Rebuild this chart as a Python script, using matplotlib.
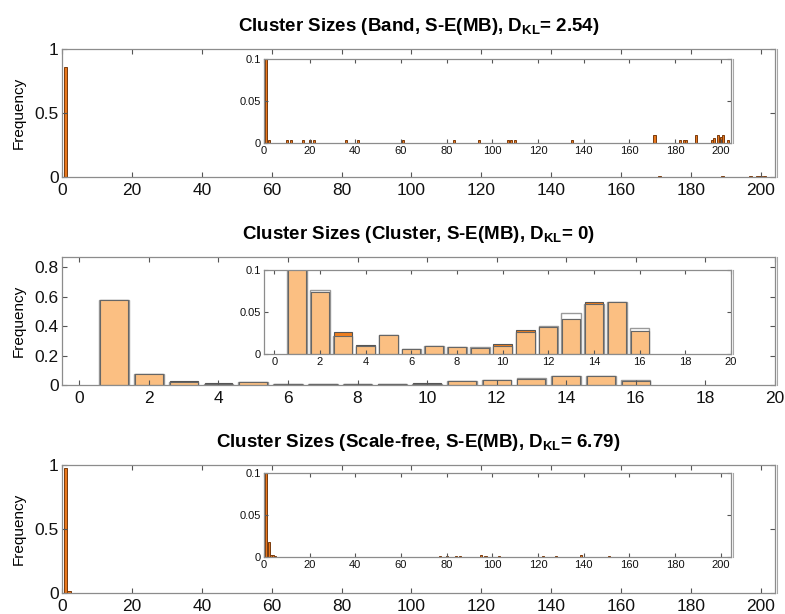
import numpy as np
import matplotlib.pyplot as plt
import matplotlib.transforms as mtransforms

plt.rcParams['font.family'] = ['Liberation Sans', 'DejaVu Sans']
plt.rcParams['mathtext.fontset'] = 'custom'
plt.rcParams['mathtext.rm'] = 'Liberation Sans'
plt.rcParams['mathtext.bf'] = 'Liberation Sans:bold'

# --- Band network: cluster sizes and their frequencies ---
band_sizes = [1, 2, 10, 12, 17, 20, 22, 36, 41, 61, 83, 94, 107, 108, 110,
              135, 171, 182, 184, 185, 189, 196, 197, 199, 200, 201, 203]
band_freq = [0.857, 0.004, 0.003, 0.003, 0.003, 0.003, 0.003, 0.003, 0.003,
             0.003, 0.003, 0.003, 0.004, 0.004, 0.003, 0.004, 0.010, 0.004,
             0.004, 0.004, 0.0096, 0.004, 0.006, 0.009, 0.007, 0.010, 0.004]

# --- Cluster network: reference and two estimates per size ---
clu_sizes = np.arange(1, 17)
clu_ref = [0.58, 0.0763, 0.021, 0.0099, 0.0229, 0.0059, 0.0095, 0.0083,
           0.0083, 0.0091, 0.026, 0.0336, 0.0486, 0.0597, 0.0613, 0.0308]
clu_dark = [0.58, 0.0735, 0.0257, 0.011, 0.022, 0.0059, 0.0095, 0.0083,
            0.0071, 0.0119, 0.0285, 0.0324, 0.0415, 0.0613, 0.0613, 0.0269]
clu_light = [0.58, 0.0735, 0.021, 0.0099, 0.022, 0.0059, 0.0095, 0.0083,
             0.0071, 0.0091, 0.026, 0.0324, 0.0415, 0.0597, 0.0613, 0.0269]

# --- Scale-free network ---
sf_sizes = [1, 2, 3, 4, 5, 77, 80, 84, 86, 95, 97, 103, 122, 128, 139, 151]
sf_freq = [0.979, 0.018, 0.003, 0.002, 0.0015, 0.001, 0.001, 0.001, 0.001,
           0.0025, 0.001, 0.001, 0.0015, 0.0015, 0.002, 0.001]

titles = [r'Cluster Sizes (Band, S-E(MB), D$_{\mathbf{KL}}$= 2.54)',
          r'Cluster Sizes (Cluster, S-E(MB), D$_{\mathbf{KL}}$= 0)',
          r'Cluster Sizes (Scale-free, S-E(MB), D$_{\mathbf{KL}}$= 6.79)']

ORANGE = '#e8771c'
BROWN = '#7a3b0c'
LIGHT = '#fbbf82'
DARK = '#f07f1f'
SPINE = '#8c8c8c'


def style(ax, fs, tl):
    for s in ax.spines.values():
        s.set_color(SPINE)
        s.set_linewidth(0.9)
    ax.tick_params(direction='in', top=True, right=True, length=tl,
                   width=0.8, color='#555555', labelsize=fs, pad=2.5,
                   labelcolor='#111111')
    # thin second line just outside the right edge
    tr = mtransforms.offset_copy(ax.transAxes, fig=ax.figure, x=2,
                                 units='dots')
    ax.plot([1, 1], [0, 1], transform=tr, color='#a8a8a8', lw=0.8,
            clip_on=False)


fig = plt.figure(figsize=(7.85, 6.14), dpi=100)

main_bottoms = [0.7117, 0.373, 0.0342]
inset_bottoms = [0.7671, 0.4235, 0.0928]

for i in range(3):
    ax = fig.add_axes([0.079, main_bottoms[i], 0.908, 0.2085])
    ins = fig.add_axes([0.3363, inset_bottoms[i], 0.5949, 0.1368])
    for a in (ax, ins):
        if i == 0:
            a.bar(band_sizes, band_freq, width=0.9, color=ORANGE,
                  edgecolor=BROWN, linewidth=0.7)
        elif i == 1:
            a.bar(clu_sizes, clu_ref, width=0.85, color='white',
                  edgecolor='#9a9a9a', linewidth=1.0)
            a.bar(clu_sizes, clu_dark, width=0.8, color=DARK,
                  edgecolor='#555555', linewidth=0.8)
            a.bar(clu_sizes, clu_light, width=0.8, color=LIGHT,
                  edgecolor='#666666', linewidth=0.8)
        else:
            a.bar(sf_sizes, sf_freq, width=0.9, color=ORANGE,
                  edgecolor=BROWN, linewidth=0.7)

    if i == 1:
        ax.set_xlim(-0.5, 20)
        ax.set_xticks(np.arange(0, 21, 2))
        ax.set_ylim(0, 0.87)
        ax.set_yticks([0, 0.2, 0.4, 0.6, 0.8])
        ax.set_yticklabels(['0', '0.2', '0.4', '0.6', '0.8'])
        ins.set_xlim(-0.45, 20)
        ins.set_xticks(np.arange(0, 21, 2))
    else:
        ax.set_xlim(0, 204)
        ax.set_xticks(np.arange(0, 201, 20))
        ax.set_ylim(0, 1)
        ax.set_yticks([0, 0.5, 1])
        ax.set_yticklabels(['0', '0.5', '1'])
        ins.set_xlim(0, 204.5)
        ins.set_xticks(np.arange(0, 201, 20))
    ins.set_ylim(0, 0.1)
    ins.set_yticks([0, 0.05, 0.1])
    ins.set_yticklabels(['0', '0.05', '0.1'])

    style(ax, 12.5, 3.6)
    style(ins, 8, 3)
    ax.tick_params(axis='x', pad=4)
    ax.set_ylabel('Frequency', fontsize=11, labelpad=6)
    ax.set_title(titles[i], fontsize=13.5, fontweight='bold', pad=13)

fig.savefig('out.png', dpi=100)
